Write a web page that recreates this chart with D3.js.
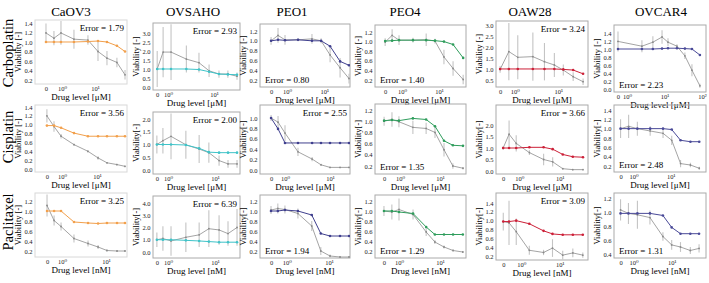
<!DOCTYPE html>
<html>
<head>
<meta charset="utf-8">
<script src="https://cdn.jsdelivr.net/npm/d3@7"></script>
<style>
  body { margin: 0; background: #fff; }
</style>
</head>
<body>
<div class="chart"></div>
<script>
// cell lines (columns) and drugs (rows)
const cellLines = ["CaOV3", "OVSAHO", "PEO1", "PEO4", "OAW28", "OVCAR4"];
const drugs = ["Carboplatin", "Cisplatin", "Paclitaxel"];
const doseUnits = ["μM", "μM", "nM"];
const lineColors = ["#f2a04c", "#3fc3c8", "#40408e", "#2f9d5c", "#cc2038", "#4a4a98"];

// error score printed in each panel
const errorCarbo = [1.79, 2.93, 0.80, 1.40, 3.24, 2.23];
const errorCis = [3.56, 2.00, 2.55, 1.35, 3.66, 2.48];
const errorPac = [3.25, 6.39, 1.94, 1.29, 3.09, 1.31];

// drug levels (0 = control)
const doseCarbo = [
  [0, 0.57, 0.93, 2.3, 6.1, 12.3, 23, 46, 81],
  [0, 0.78, 1.16, 2.5, 4.7, 7.8, 12.8, 20, 31.6],
  [0, 0.57, 0.88, 1.98, 4.7, 8.3, 14.5, 27, 47],
  [0, 0.54, 0.83, 1.98, 4.5, 7.8, 13.6, 24, 45],
  [0, 0.73, 1.17, 2.6, 4.8, 8.1, 13, 21.9, 37],
  [0, 2.5, 4.9, 8.6, 12.4, 21.5, 35, 54, 88]
];
const doseCis = [
  [0, 0.59, 0.94, 2.2, 5.5, 10.7, 19.3, 37, 63],
  [0, 0.78, 1.16, 2.4, 4.6, 7.4, 12.2, 18.9, 29.4],
  [0, 0.70, 1.0, 1.94, 4.0, 6.3, 10, 16.7, 26.4],
  [0, 0.63, 0.94, 2.1, 4.5, 7.5, 12.6, 21, 37.6],
  [0, 0.56, 0.84, 1.78, 4.0, 6.7, 11.9, 21, 37.6],
  [0, 0.74, 1.27, 2.8, 6.2, 10.6, 18.3, 33.6, 58]
];
const dosePac = [
  [0, 0.66, 0.95, 1.87, 3.9, 6.6, 10.5, 17.8, 27],
  [0, 0.78, 1.16, 2.4, 4.6, 7.4, 12.2, 18.9, 29.4],
  [0, 0.61, 0.9, 1.83, 3.9, 6.4, 10.6, 18.3, 30],
  [0, 0.67, 1.0, 2.2, 4.6, 7.5, 12.5, 20.8, 36],
  [0, 0.48, 0.74, 1.62, 3.8, 6.5, 12, 22, 40],
  [0, 0.74, 1.27, 2.7, 5.9, 10, 17, 30.7, 52]
];

// model prediction (coloured line)
const modelCarbo = [
  [1.0, 1.0, 1.0, 1.0, 1.01, 1.02, 1.0, 0.92, 0.8],
  [1.0, 1.0, 1.0, 1.0, 0.97, 0.85, 0.72, 0.7, 0.68],
  [1.0, 1.02, 1.01, 1.02, 1.0, 1.0, 0.89, 0.58, 0.5],
  [1.01, 1.02, 1.03, 1.03, 1.03, 1.02, 1.0, 0.94, 0.66],
  [1.0, 1.0, 1.0, 1.0, 1.0, 1.0, 0.98, 0.95, 0.78],
  [1.0, 1.0, 1.0, 1.01, 1.02, 1.02, 1.01, 1.0, 0.85]
];
const modelCis = [
  [0.98, 0.98, 0.93, 0.81, 0.74, 0.74, 0.74, 0.74, 0.74],
  [1.0, 1.0, 1.0, 0.98, 0.85, 0.7, 0.68, 0.68, 0.68],
  [1.0, 0.79, 0.52, 0.52, 0.52, 0.52, 0.52, 0.52, 0.52],
  [1.01, 1.02, 1.01, 1.05, 1.03, 0.91, 0.65, 0.57, 0.56],
  [1.0, 1.0, 1.0, 1.03, 1.03, 0.95, 0.72, 0.62, 0.6],
  [1.0, 1.0, 1.0, 1.0, 1.0, 0.98, 0.75, 0.72, 0.72]
];
const modelPac = [
  [1.0, 1.0, 1.0, 0.78, 0.76, 0.75, 0.76, 0.76, 0.76],
  [1.0, 1.0, 1.0, 0.95, 0.9, 0.85, 0.8, 0.8, 0.8],
  [1.0, 1.0, 1.02, 1.0, 0.92, 0.55, 0.5, 0.5, 0.5],
  [1.0, 1.0, 0.98, 0.95, 0.68, 0.53, 0.53, 0.53, 0.53],
  [0.98, 0.98, 1.0, 0.93, 0.77, 0.7, 0.68, 0.68, 0.68],
  [0.98, 0.98, 0.98, 0.98, 0.95, 0.78, 0.69, 0.69, 0.69]
];

// measured viability (grey line) and its spread
const expCarbo = [
  [1.19, 1.08, 1.19, 1.06, 1.04, 0.80, 0.66, 0.57, 0.31],
  [1.0, 1.94, 1.94, 1.55, 1.35, 0.9, 0.72, 0.72, 0.6],
  [1.0, 1.11, 1.02, 1.02, 1.04, 1.0, 0.71, 0.45, 0.23],
  [0.99, 1.13, 1.03, 1.03, 1.04, 1.01, 0.68, 0.44, 0.21],
  [0.98, 1.79, 1.53, 1.56, 1.33, 1.18, 0.95, 0.65, 0.42],
  [1.19, 1.07, 1.17, 1.3, 1.17, 1.07, 0.83, 0.47, 0.08]
];
const sdCarbo = [
  [0.2, 0.15, 0.25, 0.2, 0.1, 0.2, 0.15, 0.1, 0.1],
  [1.0, 1.4, 1.55, 0.75, 0.55, 0.35, 0.2, 0.2, 0.2],
  [0.08, 0.15, 0.1, 0.03, 0.1, 0.05, 0.15, 0.2, 0.1],
  [0.08, 0.13, 0.1, 0.05, 0.13, 0.05, 0.15, 0.15, 0.1],
  [0.15, 1.3, 1.0, 1.1, 0.85, 0.55, 0.25, 0.2, 0.15],
  [0.25, 0.15, 0.15, 0.17, 0.1, 0.05, 0.08, 0.15, 0.05]
];
const expCis = [
  [1.20, 0.96, 0.74, 0.55, 0.40, 0.25, 0.14, 0.10, 0.06],
  [1.0, 1.15, 1.32, 0.99, 0.82, 0.68, 0.37, 0.24, 0.24],
  [1.0, 0.92, 0.71, 0.35, 0.21, 0.10, 0.05, 0.05, 0.05],
  [1.0, 1.03, 0.99, 0.89, 0.87, 0.80, 0.49, 0.2, 0.16],
  [1.0, 1.6, 1.2, 0.8, 0.5, 0.4, 0.1, 0.06, 0.06],
  [1.0, 1.05, 1.0, 0.95, 0.9, 0.75, 0.25, 0.22, 0.15]
];
const sdCis = [
  [0.15, 0.12, 0.05, 0.02, 0.03, 0.04, 0.02, 0.02, 0.02],
  [0.35, 0.5, 0.9, 0.55, 0.55, 0.4, 0.2, 0.15, 0.15],
  [0.06, 0.12, 0.15, 0.08, 0.04, 0.02, 0.01, 0.01, 0.01],
  [0.08, 0.13, 0.1, 0.12, 0.1, 0.1, 0.12, 0.05, 0.02],
  [0.08, 0.6, 0.35, 0.1, 0.25, 0.2, 0.03, 0.02, 0.02],
  [0.2, 0.25, 0.15, 0.1, 0.1, 0.1, 0.08, 0.05, 0.03]
];
const expPac = [
  [1.11, 0.81, 0.69, 0.45, 0.35, 0.28, 0.21, 0.2, 0.2],
  [1.0, 1.1, 0.9, 1.2, 1.4, 1.9, 1.8, 1.5, 2.0],
  [1.02, 1.05, 1.03, 0.95, 0.7, 0.2, 0.1, 0.08, 0.08],
  [1.0, 0.98, 1.03, 0.93, 0.58, 0.38, 0.28, 0.21, 0.18],
  [0.98, 0.95, 0.75, 0.33, 0.28, 0.38, 0.22, 0.27, 0.22],
  [1.03, 0.98, 0.96, 0.92, 0.65, 0.53, 0.5, 0.45, 0.48]
];
const sdPac = [
  [0.22, 0.1, 0.08, 0.08, 0.06, 0.04, 0.02, 0.02, 0.02],
  [0.6, 1.0, 1.2, 1.2, 1.0, 1.5, 1.2, 1.0, 1.5],
  [0.08, 0.1, 0.08, 0.1, 0.1, 0.08, 0.03, 0.02, 0.02],
  [0.1, 0.15, 0.22, 0.1, 0.08, 0.04, 0.03, 0.02, 0.02],
  [0.2, 0.5, 0.3, 0.1, 0.06, 0.2, 0.1, 0.1, 0.06],
  [0.15, 0.15, 0.2, 0.1, 0.06, 0.07, 0.07, 0.05, 0.06]
];

// axis settings per panel: x domain (log), where the "0" dose sits, y domain, y ticks [from, to, step]
const xDomains = [
  [[0.152, 93], [0.47, 36.7], [0.186, 50], [0.186, 53.7], [0.37, 48], [0.45, 128]],
  [[0.169, 72], [0.48, 34], [0.278, 27.8], [0.237, 44.7], [0.266, 50], [0.3, 88]],
  [[0.243, 30], [0.48, 34], [0.23, 31.6], [0.26, 43], [0.22, 54.6], [0.31, 79]]
];
const zeroDoses = [
  [0.327, 0.58, 0.37, 0.35, 0.46, 0.575],
  [0.37, 0.58, 0.49, 0.4, 0.4, 0.45],
  [0.456, 0.58, 0.42, 0.43, 0.34, 0.46]
];
const yDomains = [
  [[0.116, 1.463], [-0.167, 3.556], [0.057, 1.343], [0.054, 1.346], [0.18, 3.18], [-0.075, 1.6]],
  [[-0.068, 1.445], [-0.157, 2.275], [-0.077, 1.25], [0.057, 1.307], [-0.13, 2.87], [0.07, 1.507]],
  [[0.08, 1.36], [-0.49, 4.57], [0.06, 1.32], [0.06, 1.32], [0.11, 1.626], [0.343, 1.271]]
];
const yTickSpecs = [
  [[0.2, 1.4, 0.2], [0, 3, 0.5], [0.2, 1.2, 0.2], [0.2, 1.2, 0.2], [0.5, 3, 0.5], [0, 1.4, 0.2]],
  [[0, 1.4, 0.2], [0, 2, 0.5], [0, 1, 0.2], [0.2, 1.2, 0.2], [0, 2, 0.5], [0.2, 1.4, 0.2]],
  [[0.2, 1.2, 0.2], [0, 4, 1], [0.2, 1.2, 0.2], [0.2, 1.2, 0.2], [0.2, 1.4, 0.2], [0.4, 1.2, 0.2]]
];
// where the error label goes: "tr" top right, "bl" bottom left
const errorCorner = [
  ["tr", "tr", "bl", "bl", "tr", "bl"],
  ["tr", "tr", "tr", "bl", "tr", "bl"],
  ["tr", "tr", "bl", "bl", "tr", "bl"]
];

// layout
const width = 709, height = 283;
const serif = '"Liberation Serif", "DejaVu Serif", "Times New Roman", serif';
const colBox = [[35, 127], [153, 240], [260, 350], [375, 466], [496, 588], [614, 706]];
const rowBox = [
  [[20, 84], [23, 90], [24, 87], [25, 87], [21, 87], [25, 92]],
  [[105, 172], [112, 174], [105, 174], [104, 174], [105, 174], [105, 172]],
  [[193, 257], [196, 258], [195, 258], [195, 258], [193, 260], [193, 258]]
];
const titleX = [71, 193, 292, 405, 530, 661];
const rowLabelY = [53, 137, 222];

const table = [
  { dose: doseCarbo, model: modelCarbo, exp: expCarbo, sd: sdCarbo, err: errorCarbo },
  { dose: doseCis, model: modelCis, exp: expCis, sd: sdCis, err: errorCis },
  { dose: dosePac, model: modelPac, exp: expPac, sd: sdPac, err: errorPac }
];

const svg = d3.select(".chart").append("svg")
  .attr("width", width).attr("height", height)
  .attr("font-family", serif);

const supers = { 0: "\u2070", 1: "\u00b9", 2: "\u00b2" };
const fmtX = (zero) => (d) => d === zero ? "0" : "10" + supers[Math.round(Math.log10(d))];

// column titles
svg.selectAll(".title").data(cellLines).join("text")
  .attr("class", "title")
  .attr("x", (d, i) => titleX[i]).attr("y", 16)
  .attr("text-anchor", "middle").attr("font-size", 13)
  .attr("font-family", serif)
  .text(d => d);

// row labels
drugs.forEach((drug, r) => {
  svg.append("text")
    .attr("transform", `translate(13,${rowLabelY[r]}) rotate(-90)`)
    .attr("text-anchor", "middle").attr("font-size", 14.5)
    .attr("font-family", serif)
    .text(drug);
});

drugs.forEach((drug, r) => {
  const set = table[r];
  cellLines.forEach((cell, c) => {
    const [x0, x1] = colBox[c];
    const [y0, y1] = rowBox[r][c];
    const zero = zeroDoses[r][c];
    const xScale = d3.scaleLog().domain(xDomains[r][c]).range([x0, x1]);
    const yScale = d3.scaleLinear().domain(yDomains[r][c]).range([y1, y0]);
    const xv = d => d === 0 ? zero : d;

    const g = svg.append("g");
    const clipId = `clip-${r}-${c}`;
    g.append("clipPath").attr("id", clipId)
      .append("rect").attr("x", x0).attr("y", y0).attr("width", x1 - x0).attr("height", y1 - y0);

    // axes
    const xt = [zero, 1, 10, 100].filter(v => v >= xDomains[r][c][0] && v <= xDomains[r][c][1]);
    const gx = g.append("g").attr("transform", `translate(0,${y1})`)
      .call(d3.axisBottom(xScale).tickValues(xt).tickSize(0).tickPadding(2.5).tickFormat(fmtX(zero)));
    gx.select(".domain").remove();
    gx.attr("font-family", serif).attr("font-size", 6.5);
    gx.selectAll("text").attr("fill", "#222").attr("font-family", serif);

    const [ts, te, st] = yTickSpecs[r][c];
    const yt = d3.range(ts, te + st / 2, st);
    const gy = g.append("g").attr("transform", `translate(${x0},0)`)
      .call(d3.axisLeft(yScale).tickValues(yt).tickSize(0).tickPadding(2.5).tickFormat(d3.format(".1f")));
    gy.select(".domain").remove();
    gy.attr("font-family", serif).attr("font-size", 6.5);
    gy.selectAll("text").attr("fill", "#222").attr("font-family", serif);

    // frame
    g.append("rect")
      .attr("x", x0).attr("y", y0).attr("width", x1 - x0).attr("height", y1 - y0)
      .attr("fill", "none").attr("stroke", c === 0 ? "#d8d8d8" : "#aaaaaa").attr("stroke-width", 1);

    // labels
    g.append("text")
      .attr("x", (x0 + x1) / 2).attr("y", y1 + 16)
      .attr("text-anchor", "middle").attr("font-size", 9)
      .attr("font-family", serif)
      .text(`Drug level [${doseUnits[r]}]`);
    g.append("text")
      .attr("transform", `translate(${x0 - 14},${(y0 + y1) / 2}) rotate(-90)`)
      .attr("text-anchor", "middle").attr("font-size", 8.5)
      .attr("font-family", serif)
      .text(r === 0 || c === 0 ? "Viability [-]" : "Viability[-]");

    const corner = errorCorner[r][c];
    g.append("text")
      .attr("x", corner === "tr" ? x1 - 3 : x0 + 5)
      .attr("y", corner === "tr" ? y0 + 11 : y1 - 4)
      .attr("text-anchor", corner === "tr" ? "end" : "start")
      .attr("font-size", 9)
      .attr("font-family", serif)
      .text(`Error = ${set.err[c].toFixed(2)}`);

    // data
    const pts = set.dose[c].map((d, i) => ({
      x: xv(d), m: set.model[c][i], e: set.exp[c][i], s: set.sd[c][i]
    }));
    const plot = g.append("g").attr("clip-path", `url(#${clipId})`);

    plot.selectAll(".eb").data(pts).join("line")
      .attr("x1", d => xScale(d.x)).attr("x2", d => xScale(d.x))
      .attr("y1", d => yScale(d.e - d.s)).attr("y2", d => yScale(d.e + d.s))
      .attr("stroke", "#c4c4c4").attr("stroke-width", 1.1);

    plot.append("path").datum(pts)
      .attr("fill", "none").attr("stroke", "#9a9a9a").attr("stroke-width", 0.9)
      .attr("d", d3.line().x(d => xScale(d.x)).y(d => yScale(d.e)));
    plot.selectAll(".ed").data(pts).join("circle")
      .attr("cx", d => xScale(d.x)).attr("cy", d => yScale(d.e))
      .attr("r", 0.9).attr("fill", "#8a8a8a");

    plot.append("path").datum(pts)
      .attr("fill", "none").attr("stroke", lineColors[c]).attr("stroke-width", 1)
      .attr("d", d3.line().x(d => xScale(d.x)).y(d => yScale(d.m)));
    plot.selectAll(".md").data(pts).join("circle")
      .attr("cx", d => xScale(d.x)).attr("cy", d => yScale(d.m))
      .attr("r", 1.3).attr("fill", lineColors[c]);
  });
});
</script>
</body>
</html>
